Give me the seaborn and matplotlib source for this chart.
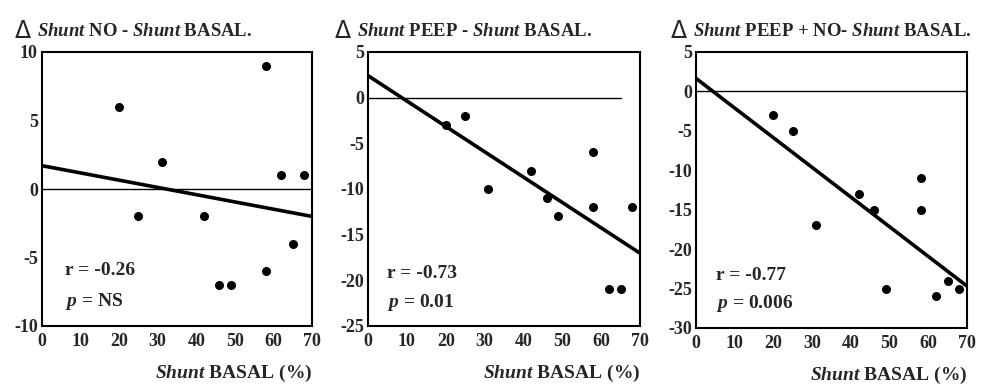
import matplotlib
matplotlib.use("Agg")
import matplotlib.pyplot as plt
import seaborn as sns
import pandas as pd

# ---- data ----
shunt_basal = [20, 25, 31, 42, 46, 49, 58, 58, 62, 65, 68]
delta_no = [6, -2, 2, -2, -7, -7, 9, -6, 1, -4, 1]
delta_peep = [-3, -2, -10, -8, -11, -13, -6, -12, -21, -21, -12]
delta_peep_no = [-3, -5, -17, -13, -15, -25, -11, -15, -26, -24, -25]

titles = [
    r"$\mathit{Shunt}$ NO - $\mathit{Shunt}$ BASAL.",
    r"$\mathit{Shunt}$ PEEP - $\mathit{Shunt}$ BASAL.",
    r"$\mathit{Shunt}$ PEEP + NO- $\mathit{Shunt}$ BASAL.",
]
r_labels = ["r = -0.26", "r = -0.73", "r = -0.77"]
p_labels = ["NS", "0.01", "0.006"]
y_limits = [(-10, 10), (-25, 5), (-30, 5)]
y_ticks = [[10, 5, 0, -5, -10], [5, 0, -5, -10, -15, -20, -25],
           [5, 0, -5, -10, -15, -20, -25, -30]]
x_ticks = [0, 10, 20, 30, 40, 50, 60, 70]
zero_line_end = [1.0, 65 / 70, 1.0]
x_label = r"$\mathit{Shunt}$ BASAL (%)"

series = [delta_no, delta_peep, delta_peep_no]

sns.set_style("white")
plt.rcParams["font.family"] = ["Liberation Serif", "DejaVu Serif"]
plt.rcParams["font.weight"] = "bold"
plt.rcParams["mathtext.fontset"] = "custom"
plt.rcParams["mathtext.rm"] = "Liberation Serif:bold"
plt.rcParams["mathtext.it"] = "Liberation Serif:italic:bold"
plt.rcParams["mathtext.bf"] = "Liberation Serif:bold"

fig = plt.figure(figsize=(9.96, 3.86), dpi=100)

axes_rects = [
    [42 / 996, 1 - 326 / 386, 270 / 996, 274 / 386],
    [368 / 996, 1 - 326 / 386, 272 / 996, 274 / 386],
    [696 / 996, 1 - 328 / 386, 271 / 996, 276 / 386],
]
title_x = [15, 335, 671]
text_pos = [(0.085, 0.204, 0.089), (0.07, 0.193, 0.084), (0.073, 0.192, 0.09)]

for i in range(3):
    ax = fig.add_axes(axes_rects[i])
    df = pd.DataFrame({"basal": shunt_basal, "delta": series[i]})
    ax.set_xlim(0, 70)
    ax.set_ylim(*y_limits[i])
    ax.axhline(0, xmin=0, xmax=zero_line_end[i], color="black", lw=1.0, zorder=1)
    sns.regplot(data=df, x="basal", y="delta", ax=ax, ci=None, truncate=False,
                scatter_kws=dict(s=30, color="black", edgecolor="black",
                                 alpha=1, zorder=3),
                line_kws=dict(color="black", lw=2.6, zorder=2))
    ax.set_xlim(0, 70)
    ax.set_ylim(*y_limits[i])
    ax.set_xticks(x_ticks)
    ax.set_yticks(y_ticks[i])
    ax.set_xticklabels([str(t) for t in x_ticks])
    ax.set_yticklabels([str(t) for t in y_ticks[i]])
    ax.tick_params(axis="x", length=0, labelsize=13, pad=5)
    ax.tick_params(axis="y", length=0, labelsize=13, pad=3)
    for lab in ax.get_xticklabels() + ax.get_yticklabels():
        lab.set_fontweight("bold")
    for sp in ax.spines.values():
        sp.set_visible(True)
        sp.set_color("black")
        sp.set_linewidth(1.5)
    ax.set_ylabel("")
    ax.set_xlabel(x_label, loc="right", fontsize=14, fontweight="bold",
                  labelpad=9)
    tx, ty_r, ty_p = text_pos[i]
    ax.text(tx, ty_r, r_labels[i], transform=ax.transAxes, fontsize=14,
            fontweight="bold", va="center", ha="left")
    ax.text(tx, ty_p, r"$\mathit{p}$ = " + p_labels[i], transform=ax.transAxes,
            fontsize=14, fontweight="bold", va="center", ha="left")
    fig.text(title_x[i] / 996, 1 - 31 / 386, "Δ", fontsize=17,
             fontweight="normal", va="center", ha="left",
             family=["DejaVu Sans"])
    fig.text((title_x[i] + 22) / 996, 1 - 32 / 386, titles[i], fontsize=13.5,
             fontweight="bold", va="center", ha="left")

fig.savefig("out.png", dpi=100)
